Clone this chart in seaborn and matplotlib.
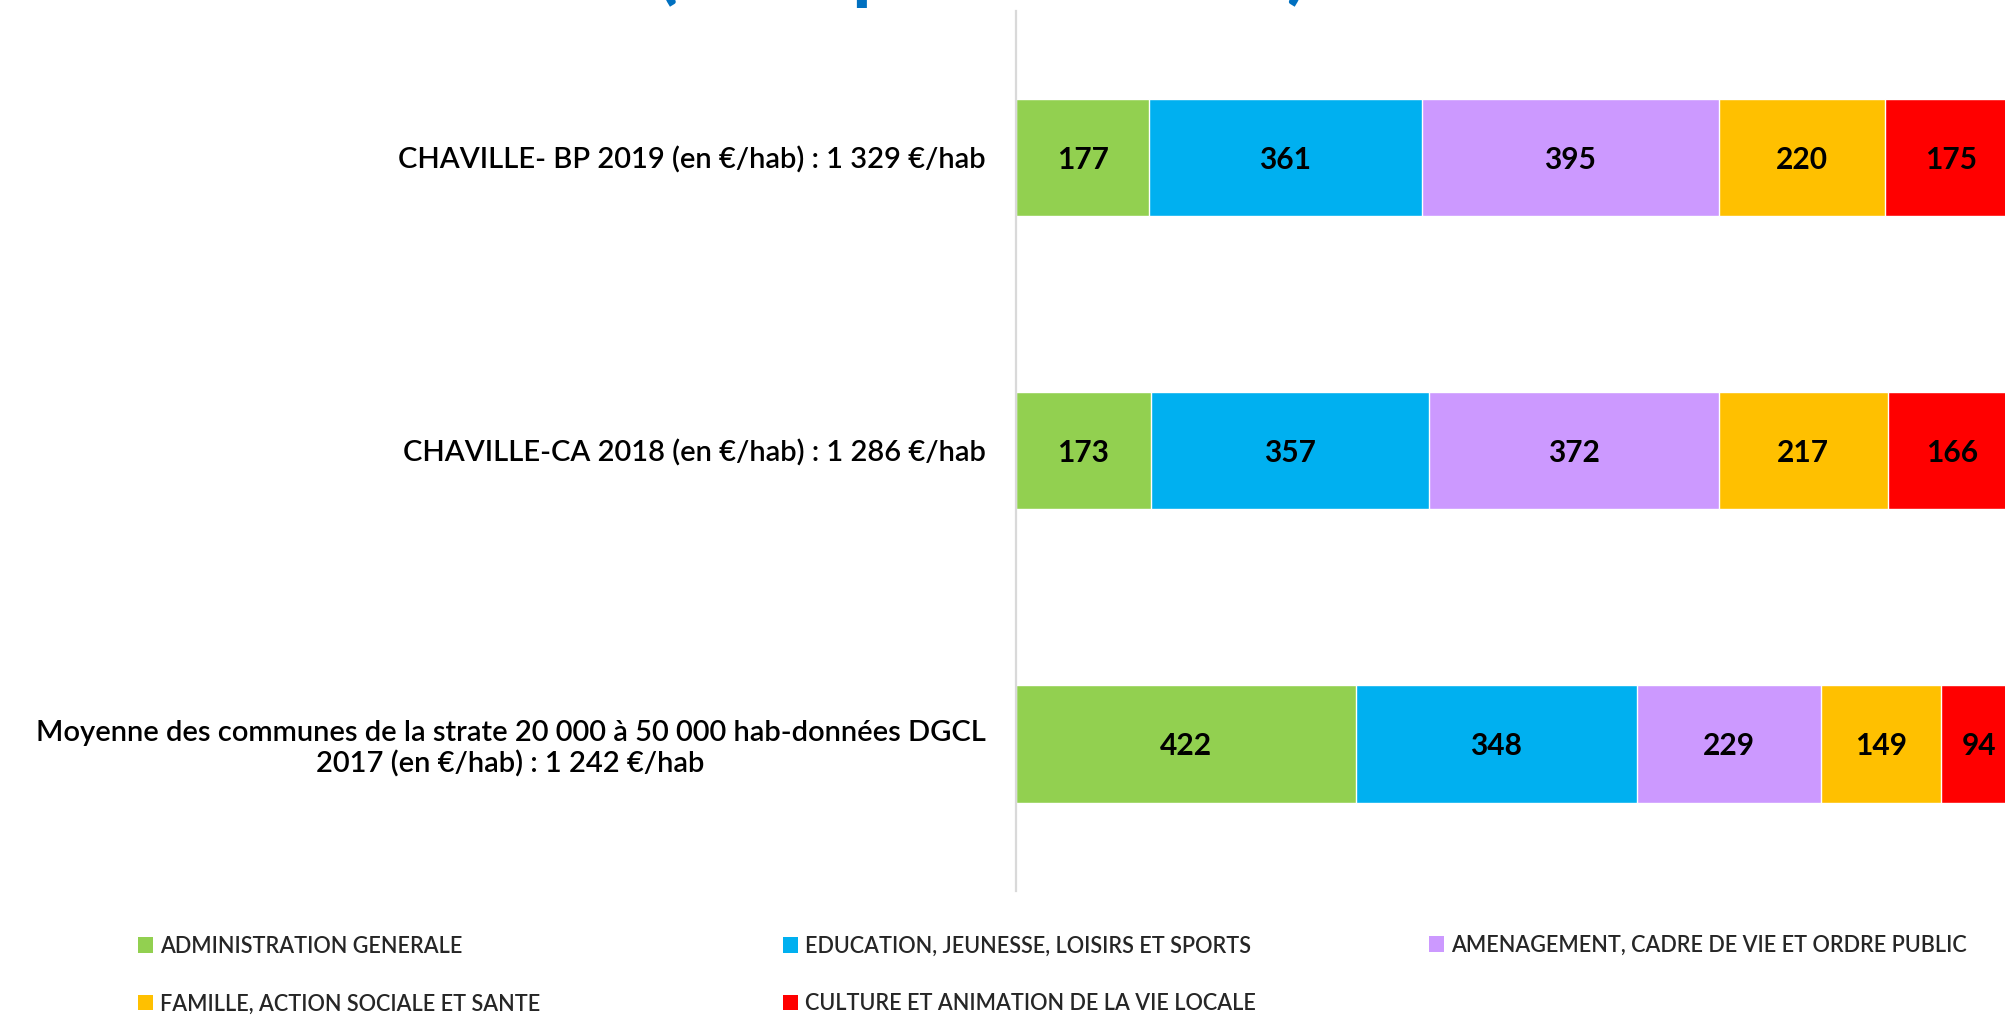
import numpy as np
import pandas as pd
import matplotlib
matplotlib.use("Agg")
import matplotlib.pyplot as plt
import seaborn as sns
from matplotlib.patches import Patch

# rows of the chart, top to bottom
rows = [
    "CHAVILLE- BP 2019 (en €/hab) : 1 329 €/hab",
    "CHAVILLE-CA 2018 (en €/hab) : 1 286 €/hab",
    "Moyenne des communes de la strate 20 000 à 50 000 hab-données DGCL\n2017 (en €/hab) : 1 242 €/hab",
]
categories = [
    "ADMINISTRATION GENERALE",
    "EDUCATION, JEUNESSE, LOISIRS ET SPORTS",
    "AMENAGEMENT, CADRE DE VIE ET ORDRE PUBLIC",
    "FAMILLE, ACTION SOCIALE ET SANTE",
    "CULTURE ET ANIMATION DE LA VIE LOCALE",
]
administration = [177, 173, 422]
education = [361, 357, 348]
amenagement = [395, 372, 229]
famille = [220, 217, 149]
culture = [175, 166, 94]
colors = ["#92D050", "#00B0F0", "#CC99FF", "#FFC000", "#FF0000"]

values = np.array([administration, education, amenagement, famille, culture], dtype=float)
shares = values / values.sum(axis=0)          # 100 % stacked bars
cum = shares.cumsum(axis=0)

sns.set_theme(style="white")
plt.rcParams["font.family"] = ["Lato", "DejaVu Sans"]

fig = plt.figure(figsize=(20.06, 10.17), dpi=100)
ax = fig.add_axes([0.5065, 0.1243, 0.4935, 0.8649])

# draw from the full stack down so each segment shows its own colour
for j in range(len(categories) - 1, -1, -1):
    df = pd.DataFrame({"row": rows, "share": cum[j]})
    sns.barplot(data=df, y="row", x="share", color=colors[j], saturation=1,
                width=0.4, edgecolor="white", linewidth=1, ax=ax, order=rows)

for j in range(len(categories)):
    for i in range(len(rows)):
        ax.text(cum[j][i] - shares[j][i] / 2, i + 0.007, f"{int(values[j][i])}",
                ha="center", va="center", fontsize=21.5, fontweight="bold",
                color="black")

ax.set_xlim(0, 0.989)
ax.set_ylim(2.5, -0.5)
ax.set_xlabel("")
ax.set_ylabel("")
ax.set_xticks([])
for s in ["top", "right", "bottom"]:
    ax.spines[s].set_visible(False)
ax.spines["left"].set_color("#D9D9D9")
ax.spines["left"].set_linewidth(1.6)
ax.tick_params(axis="y", length=0, pad=22, labelsize=21, labelcolor="black")
for lbl in ax.get_yticklabels():
    lbl.set_multialignment("center")
    lbl.set_fontweight("semibold")

# title, mostly above the visible area
fig.text(982 / 2006, 1 + 6 / 1017, "(en € par habitant)", ha="center",
         va="baseline", fontsize=58, fontweight="bold", color="#0070C0")

handles = [Patch(facecolor=c, edgecolor="none") for c in colors]
cols = [([0, 3], 138), ([1, 4], 783), ([2], 1429)]
for idx, xpx in cols:
    ypx = 975 if len(idx) == 2 else 945
    fig.legend([handles[k] for k in idx], [categories[k] for k in idx],
               loc="center left", bbox_to_anchor=(xpx / 2006, 1 - ypx / 1017),
               frameon=False,
               prop={"weight": "semibold", "size": 15.6},
               handlelength=0.7, handleheight=0.7,
               handletextpad=0.33, labelspacing=1.7, borderpad=0,
               borderaxespad=0)

fig.savefig("out.png", dpi=100)
